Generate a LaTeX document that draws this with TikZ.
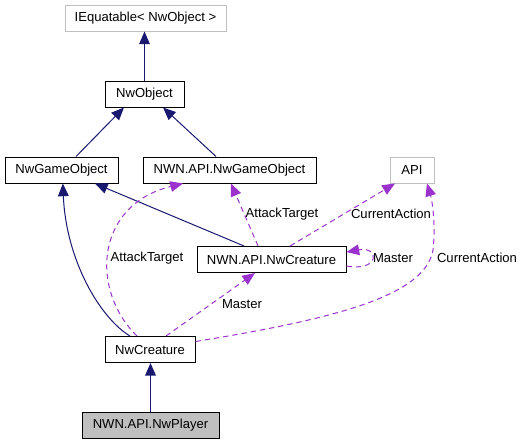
\documentclass[tikz,border=0pt]{standalone}
\usepackage{fontspec}
\setmainfont{Liberation Sans}
\usepackage{xcolor}
\usetikzlibrary{arrows.meta, positioning}
\definecolor{edgeblue}{RGB}{25,25,112}
\definecolor{usepurple}{RGB}{154,50,205}
\definecolor{boxgrey}{RGB}{191,191,191}

\begin{document}
\begin{tikzpicture}[
    x=0.75pt, y=-0.75pt,
    font=\fontsize{9.8}{11}\selectfont,
    classbox/.style={draw=black, fill=white, line width=0.75pt, minimum height=19.5pt, inner sep=0pt},
    extbox/.style={classbox, draw=boxgrey},
    mainbox/.style={classbox, fill=boxgrey},
    inherit/.style={-{Triangle[length=9.5pt,width=8pt]}, line width=0.75pt, draw=edgeblue},
    usage/.style={-{Triangle[length=9.5pt,width=8pt]}, dash pattern=on 4pt off 3pt, line width=0.75pt, draw=usepurple},
    lbl/.style={inner sep=1pt}
]
    \useasboundingbox (0,0) rectangle (528,444);

    % Classes
    \node[extbox, minimum width=120.75pt] (iequatable) at (145.5,18) {IEquatable< NwObject >};
    \node[classbox, minimum width=59.25pt] (nwobject) at (144.5,94) {NwObject};
    \node[classbox, minimum width=84.75pt] (nwgameobject) at (61.5,170) {NwGameObject};
    \node[classbox, minimum width=129.75pt] (apigameobject) at (229.5,170) {NWN.API.NwGameObject};
    \node[extbox, minimum width=33pt] (api) at (412,170) {API};
    \node[classbox, minimum width=111.75pt] (apicreature) at (271.5,259.5) {NWN.API.NwCreature};
    \node[classbox, minimum width=67.5pt] (nwcreature) at (150,349.5) {NwCreature};
    \node[mainbox, minimum width=102.75pt] (nwplayer) at (150.5,425.5) {NWN.API.NwPlayer};

    % Inheritance
    \draw[inherit] (nwobject.north) -- (nwobject.north |- iequatable.south);
    \draw[inherit] ([xshift=10.9pt]nwgameobject.north) -- ([xshift=-15.4pt]nwobject.south);
    \draw[inherit] ([xshift=-10.1pt]apigameobject.north) -- ([xshift=13.9pt]nwobject.south);
    \draw[inherit] ([xshift=-20.6pt]apicreature.north) -- ([xshift=25.1pt]nwgameobject.south);
    \draw[inherit] ([xshift=-15pt]nwcreature.north) .. controls (100,318) and (66,260) .. ([xshift=1pt]nwgameobject.south);
    \draw[inherit, line width=1.1pt] (nwplayer.north) -- (nwplayer.north |- nwcreature.south);

    % Usage
    \draw[usage] ([xshift=-9.75pt]nwcreature.north) .. controls (90,290) and (95,205) .. ([xshift=-34.9pt]apigameobject.south);
    \node[lbl] (lblattack) at (147,258) {AttackTarget};
    \draw[usage] ([xshift=-10.1pt]apicreature.north) -- ([xshift=1.1pt]apigameobject.south);
    \node[lbl] (lblattacktwo) at (282,214) {AttackTarget};
    \draw[usage] ([xshift=13.9pt]apicreature.north) -- ([xshift=-12.75pt]api.south);
    \node[lbl] (lblaction) at (391,214) {CurrentAction};
    \draw[usage] ([yshift=-4.9pt]apicreature.east) .. controls (380,272) and (380,246) .. ([yshift=5.6pt]apicreature.east);
    \node[lbl] (lblmaster) at (393,258) {Master};
    \draw[usage] ([xshift=12pt]nwcreature.north) -- ([xshift=-12.4pt]apicreature.south);
    \node[lbl] (lblmastertwo) at (242,304) {Master};
    \draw[usage] ([yshift=6pt]nwcreature.east) .. controls (340,318) and (425,295) .. (433,250)
        .. controls (436,225) and (432,200) .. ([xshift=11.25pt]api.south);
    \node[lbl] (lblactiontwo) at (477,258) {CurrentAction};
\end{tikzpicture}
\end{document}
